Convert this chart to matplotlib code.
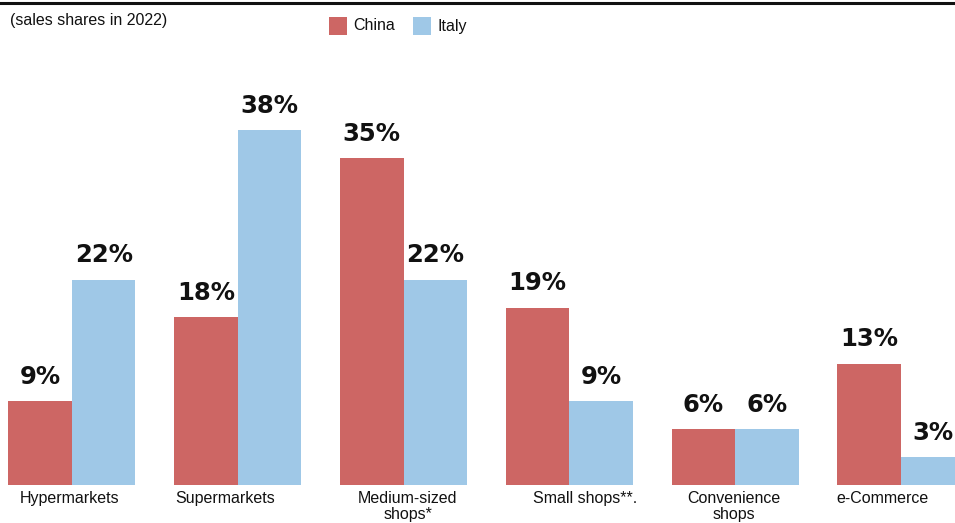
import numpy as np
import matplotlib.pyplot as plt
from matplotlib.patches import Rectangle
from matplotlib.lines import Line2D

# Sales shares by retail channel, 2022
categories = ['Hypermarkets', 'Supermarkets', 'Medium-sized\nshops*', 'Small shops**.',
              'Convenience\nshops', 'e-Commerce']
china = [9, 18, 35, 19, 6, 13]
italy = [22, 38, 22, 9, 6, 3]

red = '#CD6664'
blue = '#9FC8E7'

# horizontal nudges (pixels) for the category captions
label_shift = [-2, -13, 4, 16, -1, -18]

fig = plt.figure(figsize=(9.55, 5.23), dpi=100)
ax = fig.add_axes([0, 38 / 523, 1, (485 - 40) / 523])

x = np.arange(len(categories))
w = 0.383
ax.bar(x - w / 2, china, width=w, color=red, linewidth=0)
ax.bar(x + w / 2, italy, width=w, color=blue, linewidth=0)

ax.set_xlim(-0.434, 5.326)
ax.set_ylim(0, (485 - 40) / 9.33)
ax.axis('off')

lab_font = dict(family='DejaVu Sans', fontsize=17.5, fontweight='bold', color='#111111')
for i in range(len(categories)):
    for xv, v in ((x[i] - w / 2, china[i]), (x[i] + w / 2, italy[i])):
        ax.annotate(f'{v}%', (xv, v), xytext=(0, 9), textcoords='offset points',
                    ha='center', va='bottom', **lab_font)
    ax.annotate(categories[i], (x[i], 0), xytext=(label_shift[i] * 0.72, -4.5),
                textcoords='offset points', ha='center', va='top',
                family='Liberation Sans', fontsize=11.5, linespacing=1.05,
                color='#111111', annotation_clip=False)

# header: rule, subtitle and legend
fig.add_artist(Line2D([0, 1], [1 - 3 / 523, 1 - 3 / 523], color='#111111', lw=2.2))
fig.text(10 / 955, 1 - 21 / 523, '(sales shares in 2022)', family='Liberation Sans',
         fontsize=11.5, va='center', ha='left', color='#111111')
for x0, col, name in ((329, red, 'China'), (413, blue, 'Italy')):
    fig.add_artist(Rectangle((x0 / 955, 1 - 35 / 523), 18 / 955, 18 / 523,
                             transform=fig.transFigure, color=col, lw=0))
    fig.text((x0 + 24) / 955, 1 - 26 / 523, name, family='Liberation Sans',
             fontsize=11.5, va='center', ha='left', color='#111111')

fig.savefig('out.png', dpi=100)
